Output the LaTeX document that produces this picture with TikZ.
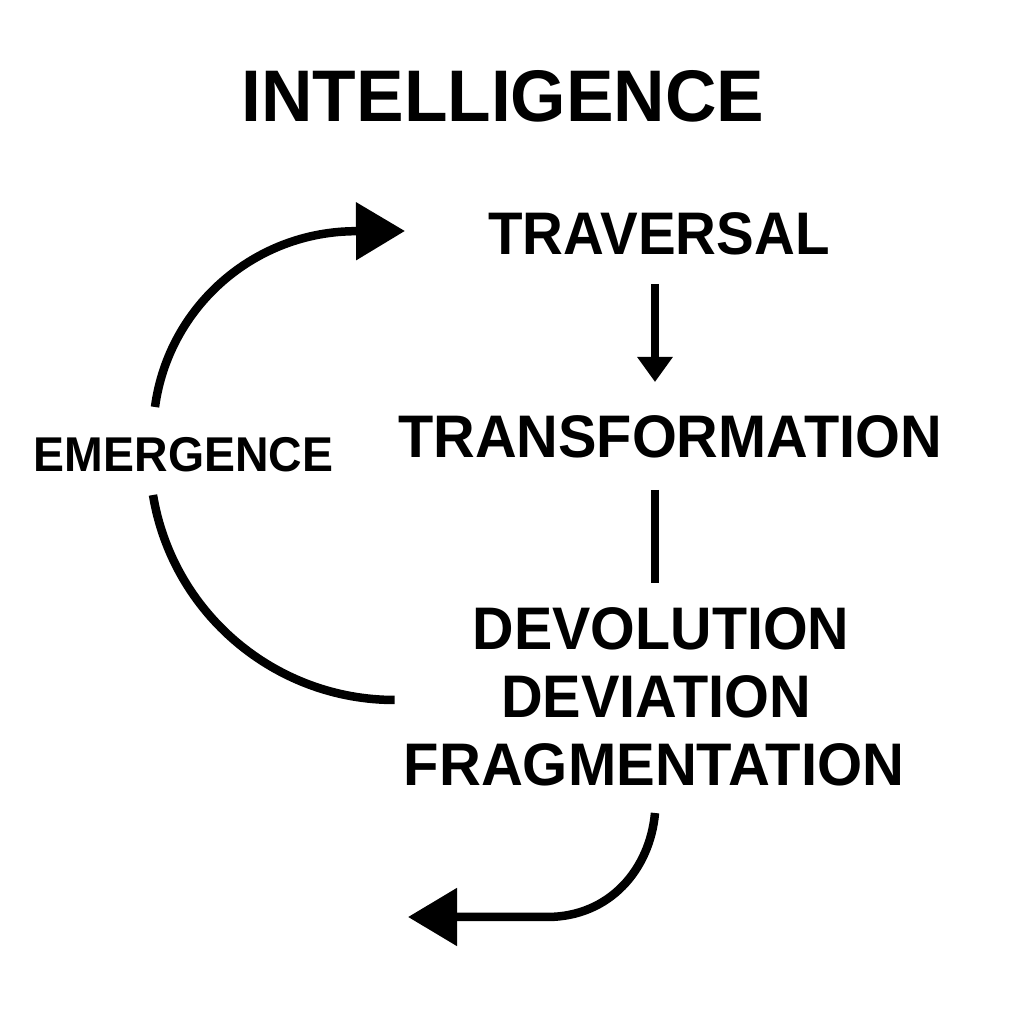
\documentclass[tikz,border=0pt]{standalone}
\usepackage{fontspec}
\setmainfont{Liberation Sans}
\usetikzlibrary{arrows.meta}
\begin{document}
\begin{tikzpicture}[
  lbl/.style={inner sep=0pt, anchor=base, font=\bfseries\fontsize{17.1pt}{20pt}\selectfont},
  conn/.style={line width=0.085cm, line cap=butt},
  bigtip/.style={-{Triangle[length=0.49cm,width=0.56cm]}},
  smalltip/.style={-{Triangle[length=0.25cm,width=0.34cm]}}
]
\useasboundingbox[fill=white] (0,0) rectangle (10.24,10.24);

\node[lbl, xscale=0.975, font=\bfseries\fontsize{20.8pt}{24pt}\selectfont] (title) at (5.03,9.02) {INTELLIGENCE};
\node[lbl, xscale=0.94] (trav) at (6.59,7.69) {TRAVERSAL};
\node[lbl, xscale=0.96] (trans) at (6.70,5.66) {TRANSFORMATION};
\node[lbl, xscale=0.95, font=\bfseries\fontsize{13.9pt}{16pt}\selectfont] (emer) at (1.835,5.52) {EMERGENCE};
\node[lbl, xscale=0.955] (devo) at (6.61,3.74) {DEVOLUTION};
\node[lbl, xscale=0.96] (devi) at (6.56,3.06) {DEVIATION};
\node[lbl, xscale=0.965] (frag) at (6.54,2.38) {FRAGMENTATION};

% coordinates for connector ends
\coordinate (a1) at (6.55,7.40);
\coordinate (a2) at (6.55,6.42);
\coordinate (b1) at (6.55,5.34);
\coordinate (b2) at (6.55,4.41);
\coordinate (up0) at (1.55,6.17);
\coordinate (uptip) at (4.05,7.93);
\coordinate (lo0) at (1.53,5.29);
\coordinate (h0) at (6.55,2.11);
\coordinate (h1) at (5.47,1.07);
\coordinate (htip) at (4.08,1.07);

\draw[conn, smalltip] (a1) -- (a2);
\draw[conn] (b1) -- (b2);
\draw[conn, bigtip] (up0) arc[start angle=172.3, end angle=90, radius=2.03] -- (uptip);
\draw[conn] (lo0) arc[start angle=189.4, end angle=270, radius=2.45];
\draw[conn, bigtip] (h0) .. controls (6.50,1.55) and (6.10,1.07) .. (h1) -- (htip);
\end{tikzpicture}
\end{document}
